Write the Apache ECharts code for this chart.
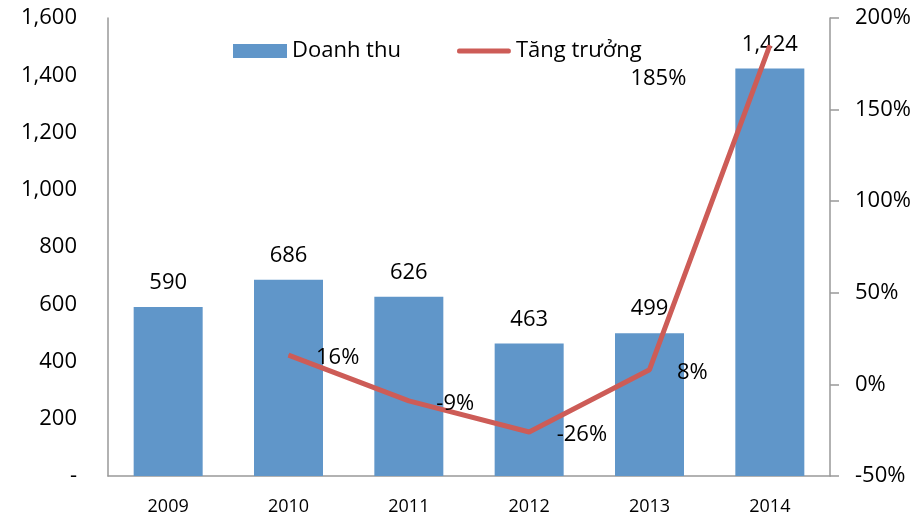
<!DOCTYPE html>
<html>
<head>
<meta charset="utf-8">
<script src="https://cdn.jsdelivr.net/npm/echarts@6/dist/echarts.min.js"></script>
<style>
  html, body { margin: 0; padding: 0; background: #fff; }
  #chart { width: 918px; height: 516px; }
</style>
</head>
<body>
<div id="chart"></div>
<script>
  // số liệu
  let years = ['2009', '2010', '2011', '2012', '2013', '2014']
  let doanhThu = [590, 686, 626, 463, 499, 1424]
  let tangTruong = [null, 16, -9, -26, 8, 185]

  let font = 'Open Sans'
  let myChart = echarts.init(document.getElementById('chart'))

  // nhãn 185% nằm bên trái dưới điểm
  let lineData = tangTruong.map(function (v, i) {
    if (i === 5) {
      return { value: v, label: { position: 'left', distance: 83, offset: [0, 33] } }
    }
    return v
  })

  myChart.setOption({
    animation: false,
    textStyle: { fontFamily: font, color: '#000' },
    grid: { left: 108, right: 88, top: 18, bottom: 39 },
    legend: {
      left: 228,
      top: 35,
      itemWidth: 54,
      itemHeight: 14,
      itemGap: 56,
      textStyle: { fontFamily: font, fontSize: 22, color: '#000' },
      data: [
        { name: 'Doanh thu', icon: 'rect' },
        { name: 'Tăng trưởng', icon: 'path://M2,0 L52,0 Q54,0 54,2.5 Q54,5 52,5 L2,5 Q0,5 0,2.5 Q0,0 2,0 Z' }
      ]
    },
    xAxis: {
      type: 'category',
      data: years,
      axisLine: { lineStyle: { color: '#999', width: 1.5 } },
      axisTick: { show: false },
      axisLabel: { fontSize: 18, color: '#000', margin: 22, fontFamily: font }
    },
    yAxis: [
      {
        type: 'value',
        min: 0,
        max: 1600,
        interval: 200,
        axisLine: { show: true, lineStyle: { color: '#999', width: 1.5 } },
        axisTick: { show: false },
        splitLine: { show: false },
        axisLabel: {
          fontSize: 22,
          color: '#000',
          margin: 31,
          fontFamily: font,
          formatter: function (v) {
            return v === 0 ? '-' : v.toLocaleString('en-US')
          }
        }
      },
      {
        type: 'value',
        min: -50,
        max: 200,
        interval: 50,
        axisLine: { show: true, lineStyle: { color: '#999', width: 1.5 } },
        axisTick: { show: true, length: 9, lineStyle: { color: '#999', width: 1.5 } },
        splitLine: { show: false },
        axisLabel: {
          fontSize: 22,
          color: '#000',
          margin: 25,
          fontFamily: font,
          formatter: '{value}%'
        }
      }
    ],
    series: [
      {
        name: 'Doanh thu',
        type: 'bar',
        data: doanhThu,
        barWidth: 69,
        itemStyle: { color: '#6096c9' },
        label: {
          show: true,
          position: 'top',
          distance: 13,
          fontSize: 22,
          color: '#000',
          fontFamily: font,
          formatter: function (p) { return p.value.toLocaleString('en-US') }
        }
      },
      {
        name: 'Tăng trưởng',
        type: 'line',
        yAxisIndex: 1,
        data: lineData,
        symbol: 'circle',
        symbolSize: 1,
        showAllSymbol: true,
        lineStyle: { color: '#cd5c57', width: 5 },
        itemStyle: { color: '#cd5c57' },
        label: {
          show: true,
          position: 'right',
          distance: 27,
          offset: [0, 3],
          fontSize: 22,
          color: '#000',
          fontFamily: font,
          formatter: '{c}%'
        }
      }
    ]
  })
</script>
</body>
</html>
